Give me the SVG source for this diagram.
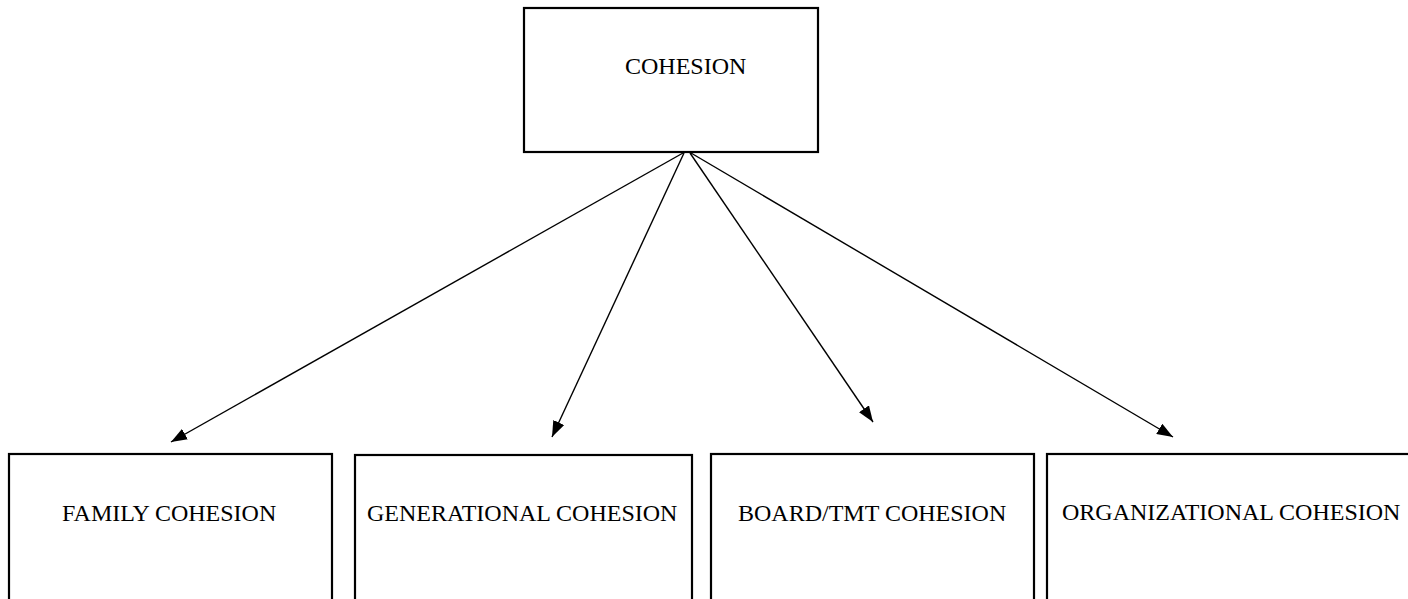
<svg xmlns="http://www.w3.org/2000/svg" width="1408" height="599" viewBox="0 0 1408 599">
  <style>
    .box { fill: #ffffff; stroke: #000000; stroke-width: 2.2; }
    .label { font-family: "Liberation Serif", "Times New Roman", serif; font-size: 24px; fill: #000000; }
    .edge { stroke: #000000; stroke-width: 1.4; fill: none; marker-end: url(#arrow); }
  </style>
  <defs>
    <marker id="arrow" viewBox="0 0 16 12" refX="16" refY="6" markerWidth="16" markerHeight="12" markerUnits="userSpaceOnUse" orient="auto">
      <path d="M0,0 L16,6 L0,12 z" fill="#000000"/>
    </marker>
  </defs>
  <rect width="1408" height="599" fill="#ffffff"/>

  <g id="cohesion">
    <rect class="box" x="524" y="8" width="294" height="144"/>
    <text class="label" x="625" y="74">COHESION</text>
  </g>

  <g id="family-cohesion">
    <rect class="box" x="9" y="454" width="323" height="160"/>
    <text class="label" x="62" y="521">FAMILY COHESION</text>
  </g>

  <g id="generational-cohesion">
    <rect class="box" x="355" y="455" width="337" height="160"/>
    <text class="label" x="367" y="521">GENERATIONAL COHESION</text>
  </g>

  <g id="board-tmt-cohesion">
    <rect class="box" x="711" y="454" width="323" height="160"/>
    <text class="label" x="738" y="521">BOARD/TMT COHESION</text>
  </g>

  <g id="organizational-cohesion">
    <rect class="box" x="1047" y="454" width="380" height="160"/>
    <text class="label" x="1062" y="520">ORGANIZATIONAL COHESION</text>
  </g>

  <g id="connectors">
    <line class="edge" x1="683" y1="153" x2="171" y2="442"/>
    <line class="edge" x1="684" y1="153" x2="552" y2="437"/>
    <line class="edge" x1="690" y1="153" x2="873" y2="422"/>
    <line class="edge" x1="691" y1="153" x2="1173" y2="437"/>
  </g>
</svg>
